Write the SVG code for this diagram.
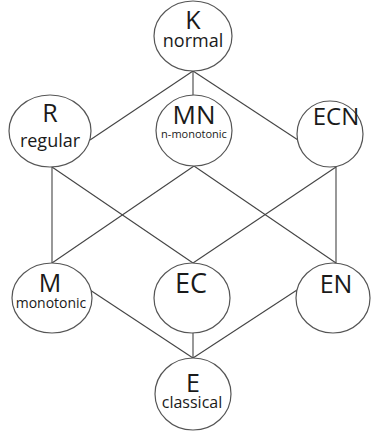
<svg xmlns="http://www.w3.org/2000/svg" width="371" height="436" viewBox="0 0 371 436">
<style>
.n{fill:#fff;stroke:#555;stroke-width:1.2}
.c line{stroke:#444;stroke-width:1.1}
text{font-family:"Open Sans","DejaVu Sans",sans-serif;fill:#1a1a1a;text-anchor:middle}
.b{font-size:25px}
.s{font-size:18px}
</style>
<rect width="371" height="436" fill="#fff"/>
<g id="connectors" class="c">
<line x1="193" y1="71" x2="90" y2="140"/>
<line x1="193" y1="71" x2="193" y2="95"/>
<line x1="193" y1="71" x2="298" y2="140"/>
<line x1="52" y1="167" x2="52" y2="263"/>
<line x1="52" y1="167" x2="193" y2="263"/>
<line x1="194" y1="166" x2="52" y2="263"/>
<line x1="194" y1="166" x2="336" y2="263"/>
<line x1="336" y1="167" x2="193" y2="263"/>
<line x1="336" y1="167" x2="336" y2="263"/>
<line x1="90" y1="290" x2="193" y2="358"/>
<line x1="193" y1="333" x2="193" y2="358"/>
<line x1="297" y1="290" x2="193" y2="358"/>
</g>
<g id="K"><ellipse class="n" cx="193" cy="36" rx="39" ry="35"/><text class="b" x="193" y="29">K</text><text class="s" x="193" y="47">normal</text></g>
<g id="R"><ellipse class="n" cx="50" cy="131" rx="41" ry="36"/><text class="b" x="50" y="122">R</text><text class="s" x="50" y="147">regular</text></g>
<g id="MN"><ellipse class="n" cx="194" cy="130.5" rx="38" ry="35.5"/><text x="194" y="124" font-size="26">MN</text><text x="194" y="138" font-size="11">n-monotonic</text></g>
<g id="ECN"><ellipse class="n" cx="330" cy="134" rx="33" ry="33"/><text x="336" y="125" font-size="24">ECN</text></g>
<g id="M"><ellipse class="n" cx="52" cy="298" rx="40" ry="35"/><text class="b" x="50" y="292">M</text><text x="51" y="308" font-size="14">monotonic</text></g>
<g id="EC"><ellipse class="n" cx="192" cy="298" rx="38" ry="35"/><text x="191" y="293" font-size="27">EC</text></g>
<g id="EN"><ellipse class="n" cx="333" cy="298" rx="37" ry="35"/><text x="336" y="293" font-size="25">EN</text></g>
<g id="E"><ellipse class="n" cx="193" cy="394" rx="38" ry="36"/><text class="b" x="193" y="392">E</text><text x="192" y="408" font-size="16">classical</text></g>
</svg>
